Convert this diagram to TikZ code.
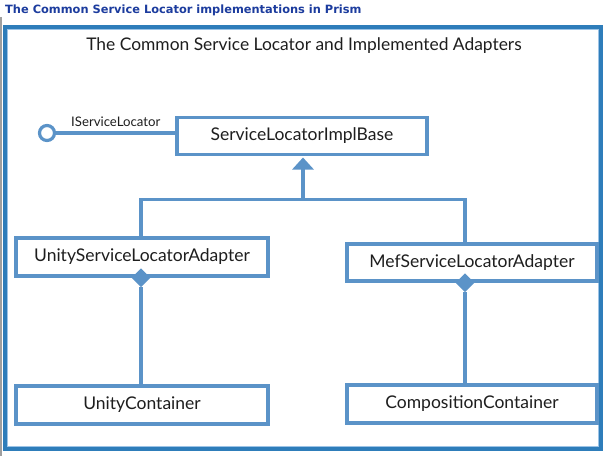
\documentclass[tikz,border=0pt]{standalone}
\usepackage{fontspec}
\setmainfont{Lato}
\newfontfamily\headfont{DejaVu Sans}
\usetikzlibrary{arrows.meta,shapes.geometric}
\definecolor{frameblue}{HTML}{2E7DBA}
\definecolor{framelight}{HTML}{9CC3E6}
\definecolor{boxblue}{HTML}{5B93C8}
\definecolor{headblue}{HTML}{1C3C9E}
\definecolor{txt}{HTML}{1E1E1E}
\begin{document}
\begin{tikzpicture}[x=1pt,y=-1pt,
  box/.style={draw=boxblue, line width=3.5pt, fill=white, inner sep=0pt,
    font=\fontsize{17.5}{20}\selectfont, text=txt},
  conn/.style={draw=boxblue, line width=3.5pt},
  dmd/.style={diamond, fill=boxblue, inner sep=0pt, minimum width=19pt, minimum height=19pt}]
\useasboundingbox (0,0) rectangle (611,456);
\fill[white] (0,0) rectangle (611,456);
% page furniture
\draw[gray!75, line width=1.5pt] (1,17) -- (1,456);
\node[anchor=base west, inner sep=0pt, text=headblue,
  font=\headfont\bfseries\fontsize{11.4}{13}\selectfont] (head) at (5,13)
  {The Common Service Locator implementations in Prism};
% outer frame
\draw[frameblue, line width=4pt] (5,27) rectangle (601,449);
\draw[framelight, line width=1pt] (7.5,29.5) rectangle (598.5,446.5);
\node[anchor=base, inner sep=0pt, text=txt, font=\fontsize{17.4}{20}\selectfont] (title) at (304,50)
  {The Common Service Locator and Implemented Adapters};
% boxes
\node[box, minimum width=250pt, minimum height=37pt] (slb) at (302,136) {ServiceLocatorImplBase};
\node[box, minimum width=252pt, minimum height=38pt] (usla) at (142,257) {UnityServiceLocatorAdapter};
\node[box, minimum width=250pt, minimum height=37pt] (msla) at (472,262.5) {MefServiceLocatorAdapter};
\node[box, minimum width=252pt, minimum height=38pt] (uc) at (142,405) {UnityContainer};
\node[box, minimum width=250pt, minimum height=38pt] (cc) at (472,404) {CompositionContainer};
% lollipop interface
\node[circle, draw=boxblue, line width=3.2pt, fill=white, minimum size=15pt, inner sep=0pt] (lol) at (47,133) {};
\draw[conn] (lol.east) -- (lol.east -| slb.west);
\node[anchor=base west, inner sep=0pt, text=txt, font=\fontsize{13.2}{15}\selectfont] (ilbl) at (71,126) {IServiceLocator};
% generalization
\coordinate (hj) at (303,199.5);
\coordinate (mx) at (465,0);
\draw[conn] (usla.north -| 141,0) |- (hj) -| (mx |- msla.north);
\draw[conn, -{Triangle[width=21pt,length=12pt]}, shorten >=-2.5pt] (hj) -- (hj |- 0,160);
% compositions
\node[dmd] (d1) at (usla.south -| 141,0) {};
\node[dmd] (d2) at (mx |- msla.south) {};
\draw[conn] (d1.south) -- (d1 |- uc.north);
\draw[conn] (d2.south) -- (d2 |- cc.north);
\end{tikzpicture}
\end{document}
